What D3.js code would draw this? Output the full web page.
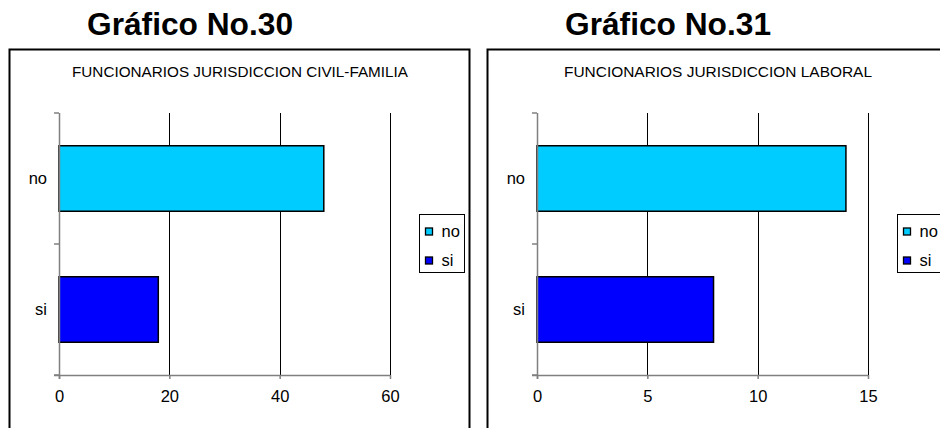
<!DOCTYPE html>
<html>
<head>
<meta charset="utf-8">
<script src="https://cdn.jsdelivr.net/npm/d3@7"></script>
<style>
  html, body { margin: 0; padding: 0; background: #fff; }
  svg { display: block; font-family: "Liberation Sans", Arial, sans-serif; }
</style>
</head>
<body>
<svg id="chart" width="940" height="428"></svg>
<script>
// Categories shared by both bar charts
const categories = ["no", "si"];

// Civil-familia officials per answer
const civilFamiliaValues = [48, 18];
const civilFamiliaTicks = [0, 20, 40, 60];

// Laboral officials per answer
const laboralValues = [14, 8];
const laboralTicks = [0, 5, 10, 15];

const figureTitles = ["Gráfico No.30", "Gráfico No.31"];
const chartTitles = [
  "FUNCIONARIOS JURISDICCION CIVIL-FAMILIA",
  "FUNCIONARIOS JURISDICCION LABORAL"
];

const colors = d3.scaleOrdinal().domain(categories).range(["#00CCFF", "#0000FF"]);

const svg = d3.select("#chart");

const panels = [
  { ox: 0,   values: civilFamiliaValues, ticks: civilFamiliaTicks, fig: figureTitles[0], title: chartTitles[0], titleLen: 336 },
  { ox: 478, values: laboralValues,      ticks: laboralTicks,      fig: figureTitles[1], title: chartTitles[1], titleLen: 308 }
];

panels.forEach(p => {
  const g = svg.append("g").attr("transform", `translate(${p.ox},0)`);

  // Figure heading above the frame
  g.append("text")
    .attr("x", 190).attr("y", 35)
    .attr("text-anchor", "middle")
    .attr("font-size", 30.5).attr("font-weight", "bold")
    .attr("textLength", 206).attr("lengthAdjust", "spacingAndGlyphs")
    .attr("fill", "#000")
    .text(p.fig);

  // Chart frame
  g.append("rect")
    .attr("x", 9.5).attr("y", 49.5)
    .attr("width", 460).attr("height", 420)
    .attr("fill", "#fff").attr("stroke", "#000").attr("stroke-width", 2);

  // Chart title
  g.append("text")
    .attr("x", 240).attr("y", 77)
    .attr("text-anchor", "middle")
    .attr("font-size", 15)
    .attr("textLength", p.titleLen).attr("lengthAdjust", "spacingAndGlyphs")
    .attr("fill", "#000")
    .text(p.title);

  const x = d3.scaleLinear()
    .domain([p.ticks[0], p.ticks[p.ticks.length - 1]])
    .range([59, 390]);
  const y = d3.scaleBand()
    .domain(categories)
    .range([113, 375])
    .paddingInner(0.5)
    .paddingOuter(0.25);

  const [y0, y1] = y.range();

  // Vertical gridlines
  g.append("g").selectAll("line")
    .data(p.ticks.slice(1))
    .join("line")
    .attr("x1", d => Math.round(x(d)) + 0.5).attr("x2", d => Math.round(x(d)) + 0.5)
    .attr("y1", y0).attr("y2", y1)
    .attr("stroke", "#000").attr("stroke-width", 1);

  // Bars
  g.append("g").selectAll("rect")
    .data(categories.map((c, i) => ({ c, v: p.values[i] })))
    .join("rect")
    .attr("x", x(0))
    .attr("y", d => y(d.c))
    .attr("width", d => x(d.v) - x(0))
    .attr("height", y.bandwidth())
    .attr("fill", d => colors(d.c))
    .attr("stroke", "#000").attr("stroke-width", 1.5);

  // Category axis: ticks at band boundaries, labels centred in each band
  const boundaries = [y0].concat(categories.map(c => y(c) - y.step() * y.paddingOuter() + y.step()));
  const yAxis = g.append("g");
  yAxis.append("line")
    .attr("x1", x(0) + 0.5).attr("x2", x(0) + 0.5)
    .attr("y1", y0).attr("y2", y1 + 4)
    .attr("stroke", "#808080").attr("stroke-width", 1.5);
  yAxis.selectAll("line.tick")
    .data(boundaries)
    .join("line").attr("class", "tick")
    .attr("x1", x(0) - 5).attr("x2", x(0))
    .attr("y1", d => d).attr("y2", d => d)
    .attr("stroke", "#808080").attr("stroke-width", 1.5);
  yAxis.selectAll("text")
    .data(categories)
    .join("text")
    .attr("x", x(0) - 12)
    .attr("y", d => y(d) + y.bandwidth() / 2)
    .attr("dy", "0.35em")
    .attr("text-anchor", "end")
    .attr("font-size", 16.5)
    .attr("fill", "#000")
    .text(d => d);

  // Value axis
  const xAxis = g.append("g")
    .attr("transform", `translate(0,${y1})`)
    .call(d3.axisBottom(x).tickValues(p.ticks).tickSize(4).tickSizeOuter(0).tickPadding(11).tickFormat(d3.format("d")));
  xAxis.select(".domain").attr("stroke", "#808080").attr("stroke-width", 1.5).attr("d", `M${x(0) - 5},0.5H${x.range()[1]}`);
  xAxis.selectAll(".tick line").attr("stroke", "#808080").attr("stroke-width", 1.5);
  xAxis.selectAll(".tick text")
    .attr("font-size", 16.5)
    .attr("font-family", "'Liberation Sans', Arial, sans-serif")
    .attr("fill", "#000");

  // Legend
  const lg = g.append("g").attr("transform", "translate(419.5,214.5)");
  lg.append("rect")
    .attr("width", 45).attr("height", 58)
    .attr("fill", "#fff").attr("stroke", "#000").attr("stroke-width", 1);
  const items = lg.selectAll("g.item")
    .data(categories)
    .join("g").attr("class", "item")
    .attr("transform", (d, i) => `translate(6,${17 + i * 29})`);
  items.append("rect")
    .attr("x", 0).attr("y", -3.5)
    .attr("width", 7).attr("height", 7)
    .attr("fill", d => colors(d))
    .attr("stroke", "#000").attr("stroke-width", 1.3);
  items.append("text")
    .attr("x", 16).attr("y", 0)
    .attr("dy", "0.35em")
    .attr("font-size", 16.5)
    .attr("fill", "#000")
    .text(d => d);
});
</script>
</body>
</html>
